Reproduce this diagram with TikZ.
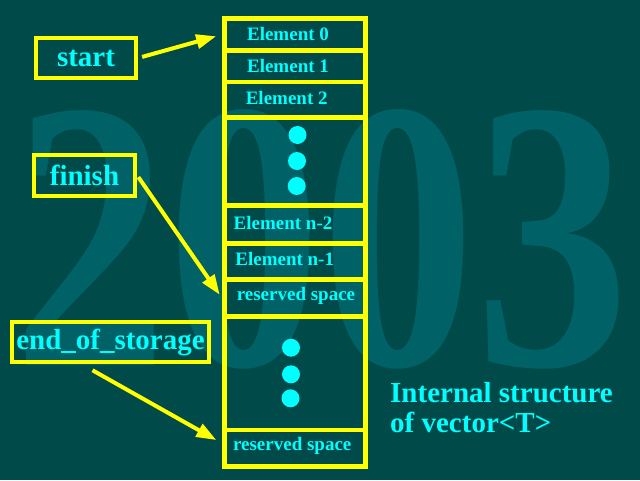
\documentclass[tikz,border=0pt]{standalone}
\usepackage{fontspec}
\setmainfont{Liberation Serif}
\usepackage{tikz}
\usetikzlibrary{arrows.meta}
\usetikzlibrary{calc}
\definecolor{bgteal}{RGB}{0,74,74}
\definecolor{markteal}{RGB}{0,98,102}
\definecolor{ptryellow}{RGB}{255,255,0}
\definecolor{txtcyan}{RGB}{0,255,255}
\tikzstyle{cell_box}=[draw=ptryellow, line width=4.5pt, minimum width=141pt, inner sep=0pt]
\tikzstyle{cell_label}=[text=txtcyan, inner sep=0pt, font=\fontsize{19}{19}\selectfont\bfseries]
\tikzstyle{ptr_box}=[draw=ptryellow, line width=4.5pt, text=txtcyan, inner sep=0pt, font=\fontsize{29}{29}\selectfont\bfseries]
\tikzstyle{ptr_arrow}=[ptryellow, line width=4pt, -{Triangle[length=20pt,width=14pt]}]
\tikzstyle{dot}=[circle, fill=txtcyan, minimum size=18pt, inner sep=0pt]

\begin{document}
\begin{tikzpicture}[x=1pt, y=-1pt]
          \fill[bgteal] (0,0) rectangle (640,480);
          \useasboundingbox (0,0) rectangle (640,480);
          \node[text=markteal, xscale=0.8, inner sep=0pt, anchor=base, font=\fontsize{385}{385}\selectfont\bfseries] (year) at (322,365){2003};
          % the column
          \node[cell_box, minimum height=31.8pt] (c0) at (294.75,34.6){};
          \node[cell_box, minimum height=31.5pt] (c1) at (294.75,66.25){};
          \node[cell_box, minimum height=35.3pt] (c2) at (294.75,99.65){};
          \node[cell_box, minimum height=88pt] (c3) at (294.75,161.3){};
          \node[cell_box, minimum height=38.2pt] (c4) at (294.75,224.4){};
          \node[cell_box, minimum height=36.2pt] (c5) at (294.75,261.6){};
          \node[cell_box, minimum height=36.8pt] (c6) at (294.75,298.1){};
          \node[cell_box, minimum height=113.5pt] (c7) at (294.75,373.25){};
          \node[cell_box, minimum height=36.5pt] (c8) at (294.75,448.25){};
          \node[cell_label] (l0) at (288,33.7){Element 0};
          \node[cell_label] (l1) at (288,66.3){Element 1};
          \node[cell_label] (l2) at (286.7,97.8){Element 2};
          \node[cell_label] (l4) at (283,223.3){Element n-2};
          \node[cell_label] (l5) at (284.7,259.3){Element n-1};
          \node[cell_label] (l6) at (296,296){reserved space};
          \node[cell_label] (l8) at (292.2,445.5){reserved space};
          \node[dot] (d1) at (297.5,135){};
          \node[dot] (d2) at (297,161){};
          \node[dot] (d3) at (296.7,186){};
          \node[dot] (d4) at (291,347.7){};
          \node[dot] (d5) at (291,374.3){};
          \node[dot] (d6) at (290.5,398.3){};
          % pointers
          \node[ptr_box, minimum width=100pt, minimum height=40pt] (start) at (86,58){start};
          \node[ptr_box, minimum width=101pt, minimum height=41pt] (finish) at (84.5,175.5){finish};
          \node[ptr_box, minimum width=197pt, minimum height=40pt] (eos) at (110.5,342){end\_of\_storage};
          \draw[ptr_arrow, shorten <=4pt, shorten >=6pt](start.east) -- (c0.west);
          \draw[ptr_arrow, shorten <=2pt, shorten >=4pt](finish.east) -- (c6.west);
          \draw[ptr_arrow, shorten >=6.5pt]($(eos.south)+(-18,6)$) -- ($(c8.west)+(0,-5)$);
          \node[text=txtcyan, inner sep=0pt, align=left, anchor=base west, font=\fontsize{29}{30}\selectfont\bfseries] (caption) at (390,432.7){Internal structure\\of vector<T>};
        \end{tikzpicture}
\end{document}
